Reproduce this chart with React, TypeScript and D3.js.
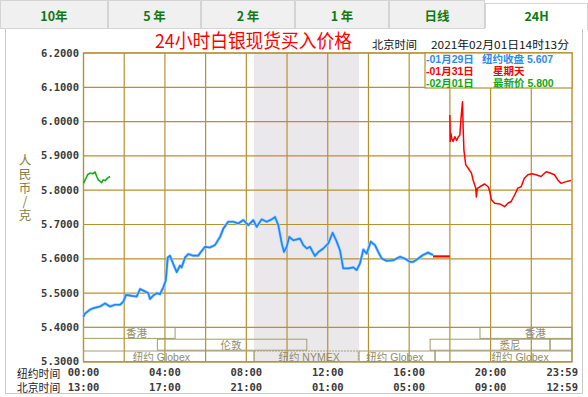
import * as d3 from 'd3';

// tabs across the top
const tabNames = ['10年', '5 年', '2 年', '1 年', '日线', '24H'];
const activeTab = '24H';

// axis ticks
const yTicks = [6.2, 6.1, 6.0, 5.9, 5.8, 5.7, 5.6, 5.5, 5.4, 5.3];
const gridHours = [2, 4, 6, 8, 10, 12, 14, 16, 18, 20, 22];
const labelHours = [0, 4, 8, 12, 16, 20, 24];
const nyLabels = ['00:00', '04:00', '08:00', '12:00', '16:00', '20:00', '23:59'];
const bjLabels = ['13:00', '17:00', '21:00', '01:00', '05:00', '09:00', '12:59'];

// 01月29日 纽约 (blue)
const blueHours = [0, 0.07, 0.32, 0.48, 0.81, 1.06, 1.3, 1.55, 1.79, 1.96, 2.09, 2.37, 2.61, 2.78, 3.02, 3.18, 3.27, 3.43, 3.6, 3.76, 3.92, 4.04, 4.14, 4.25, 4.41, 4.58, 4.74, 4.82, 4.99, 5.15, 5.39, 5.64, 5.72, 5.97, 6.21, 6.46, 6.71, 6.87, 7.11, 7.36, 7.61, 7.85, 8.1, 8.34, 8.51, 8.75, 9.0, 9.25, 9.41, 9.57, 9.74, 9.85, 9.98, 10.11, 10.31, 10.64, 10.8, 10.97, 11.13, 11.37, 11.54, 11.78, 12.03, 12.24, 12.44, 12.6, 12.76, 13.01, 13.26, 13.42, 13.58, 13.75, 13.91, 14.11, 14.32, 14.48, 14.65, 14.9, 15.22, 15.55, 15.8, 16.04, 16.19, 16.43, 16.68, 16.93, 17.17];
const blueValues = [5.431, 5.44, 5.452, 5.456, 5.461, 5.47, 5.461, 5.466, 5.466, 5.475, 5.495, 5.492, 5.49, 5.512, 5.505, 5.5, 5.483, 5.493, 5.5, 5.497, 5.517, 5.536, 5.604, 5.609, 5.585, 5.561, 5.58, 5.575, 5.604, 5.614, 5.609, 5.609, 5.616, 5.635, 5.633, 5.64, 5.664, 5.688, 5.708, 5.708, 5.703, 5.713, 5.698, 5.713, 5.693, 5.715, 5.708, 5.715, 5.722, 5.698, 5.645, 5.62, 5.635, 5.664, 5.654, 5.659, 5.64, 5.63, 5.635, 5.608, 5.62, 5.63, 5.645, 5.676, 5.65, 5.625, 5.572, 5.572, 5.575, 5.567, 5.586, 5.627, 5.615, 5.65, 5.64, 5.62, 5.601, 5.594, 5.596, 5.606, 5.6, 5.591, 5.591, 5.6, 5.611, 5.618, 5.611];

// 纽约收盘 carried to the open
const closeValue = 5.607;
const closeHours = [17.17, 18];

// 01月31日 (red)
const redHours = [18, 18.02, 18.05, 18.1, 18.16, 18.24, 18.33, 18.42, 18.49, 18.54, 18.62, 18.65, 18.69, 18.78, 18.9, 19.06, 19.14, 19.27, 19.3, 19.35, 19.47, 19.71, 19.88, 19.96, 20.04, 20.2, 20.45, 20.69, 20.85, 21.01, 21.18, 21.34, 21.5, 21.66, 21.83, 22.04, 22.23, 22.48, 22.73, 22.89, 23.14, 23.3, 23.46, 23.71, 23.95];
const redValues = [6.019, 5.942, 5.966, 5.95, 5.942, 5.956, 5.945, 5.956, 5.96, 6.005, 6.058, 5.985, 5.917, 5.874, 5.864, 5.85, 5.83, 5.806, 5.78, 5.805, 5.81, 5.818, 5.81, 5.796, 5.772, 5.762, 5.76, 5.752, 5.762, 5.767, 5.786, 5.806, 5.81, 5.835, 5.845, 5.848, 5.845, 5.84, 5.854, 5.851, 5.845, 5.83, 5.82, 5.825, 5.828];

// 02月01日 (green)
const greenHours = [0, 0.1, 0.2, 0.32, 0.45, 0.57, 0.65, 0.73, 0.89, 0.97, 1.06, 1.18, 1.3];
const greenValues = [5.82, 5.832, 5.845, 5.85, 5.848, 5.853, 5.84, 5.83, 5.822, 5.83, 5.828, 5.835, 5.84];

// legend rows
const legendDates = ['-01月29日', '-01月31日', '-02月01日'];
const legendNotes = ['纽约收盘 5.607', '星期天', '最新价 5.800'];
const legendColors = ['#2d8bef', '#ff0000', '#10a810'];

// market sessions along the bottom
const sessionNames = ['香港', '香港', '伦敦', '悉尼', '', '纽约 Globex', '纽约 NYMEX', '纽约 Globex', '纽约 Globex'];
const sessionRows = [0, 0, 1, 1, 1, 2, 2, 2, 2];
const sessionStarts = [0, 19.48, 3.63, 17.03, 22.92, 0, 8.38, 13.54, 17.27];
const sessionEnds = [4.5, 24, 10.97, 22.92, 24, 8.38, 13.5, 17.27, 24];
const sessionLabelAt = [2.6, 22.2, 7.25, 20.95, 0, 3.83, 11.08, 15.3, 21.45];
const nymexShade = [8.38, 13.54];

const gold = '#b8912f';
const mono = '"DejaVu Sans Mono", monospace';
const cjk = '"Noto Sans CJK SC", "Noto Sans", sans-serif';
const tight = '"Liberation Sans", "Noto Sans CJK SC", sans-serif';

export default function App() {
  const left = 83.5, right = 572, top = 53, bottom = 361.7;
  const x = d3.scaleLinear().domain([0, 24]).range([left, right]);
  const y = d3.scaleLinear().domain([5.3, 6.2]).range([bottom, top]);
  const line = (hs: number[], vs: number[]) =>
    d3.line<number>().x((d) => x(d)).y((_, i) => y(vs[i]))(hs) || '';

  const tabEdges = [0, 108, 201, 295, 389, 485, 588];
  const rowTop = (r: number) => y(5.4) + r * 11.8;

  return (
    <div style={{ position: 'fixed', left: 0, top: 0 }}>
      <svg width={588} height={397} style={{ display: 'block', background: '#fff' }}>
        {/* tab bar */}
        {tabNames.map((t, i) => {
          const on = t === activeTab;
          return (
            <g key={t}>
              <rect x={tabEdges[i] + 0.5} y={on ? 3.5 : 0.5} width={tabEdges[i + 1] - tabEdges[i] - 1} height={on ? 26 : 28}
                fill={on ? '#fff' : '#f0f0f0'} stroke="#d4d4d4" />
              <text x={(tabEdges[i] + tabEdges[i + 1]) / 2} y={21} textAnchor="middle" fontFamily={cjk}
                fontWeight="bold" fontSize={12.5} fill="#0d7a0d">{t}</text>
            </g>
          );
        })}
        <line x1={485} x2={587} y1={29} y2={29} stroke="#fff" strokeWidth={2} />
        {/* content frame */}
        <path d="M5.5,29 V393.5 H582.5 V29" fill="none" stroke="#c8c8c8" />

        {/* titles */}
        <text x={155} y={48} fontFamily={cjk} fontSize={19} fill="#ff0000" textLength={197} lengthAdjust="spacingAndGlyphs">24小时白银现货买入价格</text>
        <text x={372} y={49} fontFamily={cjk} fontSize={11} fill="#111" textLength={45} lengthAdjust="spacingAndGlyphs">北京时间</text>
        <text x={431} y={49} fontFamily={cjk} fontSize={11} fill="#111" textLength={138} lengthAdjust="spacingAndGlyphs">2021年02月01日14时13分</text>

        {/* shading for NYMEX hours */}
        <rect x={x(nymexShade[0])} y={top} width={x(nymexShade[1]) - x(nymexShade[0])} height={bottom - top} fill="#ebe8ec" />

        {/* grid */}
        {yTicks.map((v) => (
          <line key={v} x1={left} x2={right} y1={y(v)} y2={y(v)} stroke={gold} strokeWidth={1.2} />
        ))}
        {gridHours.map((h) => (
          <line key={h} x1={x(h)} x2={x(h)} y1={top} y2={bottom} stroke={gold} strokeWidth={1.2} />
        ))}
        <rect x={left} y={top} width={right - left} height={bottom - top} fill="none" stroke={gold} strokeWidth={1.4} />

        {/* sessions */}
        {sessionNames.map((n, i) => {
          const x0 = x(sessionStarts[i]), x1 = x(sessionEnds[i]);
          const r = rowTop(sessionRows[i]);
          return (
            <g key={i}>
              <rect x={x0} y={r} width={x1 - x0} height={11} fill="none" stroke="#a39d6c" strokeWidth={1}
                strokeDasharray={n === '纽约 NYMEX' ? '2,1' : undefined} />
              {n && (
                <text x={x(sessionLabelAt[i])} y={r + 9.5} textAnchor="middle" fontFamily={tight} fontSize={10.5} fill="#8f8b68">{n}</text>
              )}
            </g>
          );
        })}

        {/* y labels */}
        {yTicks.map((v) => (
          <text key={v} x={79} y={y(v) + 3.5} textAnchor="end" fontFamily={mono} fontWeight="bold" fontSize={10.5} fill="#3a3a3a">{v.toFixed(4)}</text>
        ))}
        <text x={25} y={154} fontFamily={cjk} fontSize={12.5} fill="#83803f" letterSpacing={1.3}
          style={{ writingMode: 'vertical-rl', textOrientation: 'upright' }}>人民币/克</text>

        {/* x labels */}
        <text x={17} y={377.5} fontFamily={tight} fontSize={10.8} fill="#222">纽约时间</text>
        <text x={17} y={391.5} fontFamily={tight} fontSize={10.8} fill="#222">北京时间</text>
        {labelHours.map((h, i) => {
          const last = i === labelHours.length - 1;
          return (
            <g key={h}>
              <text x={last ? x(h) + 6 : x(h)} y={376} textAnchor={last ? 'end' : 'middle'} fontFamily={mono} fontWeight="bold" fontSize={10.5} fill="#3a3a3a">{nyLabels[i]}</text>
              <text x={last ? x(h) + 6 : x(h)} y={391} textAnchor={last ? 'end' : 'middle'} fontFamily={mono} fontWeight="bold" fontSize={10.5} fill="#3a3a3a">{bjLabels[i]}</text>
            </g>
          );
        })}

        {/* series */}
        <path d={line(blueHours, blueValues)} fill="none" stroke="#a9d2ff" strokeWidth={3} strokeLinejoin="round" />
        <path d={line(blueHours, blueValues)} fill="none" stroke="#1a86ff" strokeWidth={1.7} strokeLinejoin="round" />
        <path d={line(closeHours, closeHours.map(() => closeValue))} fill="none" stroke="#ff0000" strokeWidth={2.2} />
        <path d={line(redHours, redValues)} fill="none" stroke="#ff0000" strokeWidth={1.5} strokeLinejoin="round" />
        <path d={line(greenHours, greenValues)} fill="none" stroke="#12b012" strokeWidth={1.6} strokeLinejoin="round" />

        {/* legend */}
        <rect x={425} y={top} width={right - 425} height={35} fill="#fff" stroke={gold} strokeWidth={1.2} />
        {legendDates.map((d, i) => (
          <g key={d} fill={legendColors[i]} fontFamily={tight} fontSize={10.5} fontWeight="bold">
            <text x={426} y={63 + i * 12}>{d}</text>
            <text x={i === 0 ? 482 : 493} y={63 + i * 12}>{legendNotes[i]}</text>
          </g>
        ))}
      </svg>
    </div>
  );
}
